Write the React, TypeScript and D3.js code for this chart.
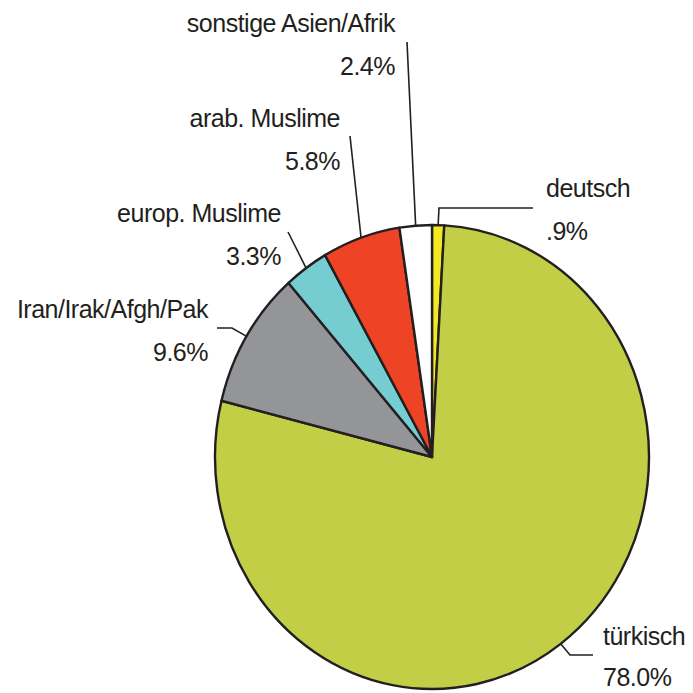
import React from "react"
import * as d3 from "d3"

// slices, clockwise from 12 o'clock
const groups = ["deutsch", "türkisch", "Iran/Irak/Afgh/Pak", "europ. Muslime", "arab. Muslime", "sonstige Asien/Afrik"]
const shares = [0.9, 78.0, 9.6, 3.3, 5.8, 2.4]
const shareLabels = [".9%", "78.0%", "9.6%", "3.3%", "5.8%", "2.4%"]
const colors = ["#f3e922", "#c2ce46", "#939598", "#76cdd1", "#ee4325", "#ffffff"]

// label placement: leader line points after the edge, text anchor + position
const labelLayout = [
  { pts: [[439, 208], [533, 208]], anchor: "start", x: 546, y: 197, gap: 43 },
  { pts: [[570, 655], [593, 655]], anchor: "start", x: 603, y: 645, gap: 41 },
  { pts: [[232, 328], [217, 328]], anchor: "end", x: 208, y: 318, gap: 43 },
  { pts: [[288, 232]], anchor: "end", x: 281, y: 222, gap: 43 },
  { pts: [[350, 136]], anchor: "end", x: 340, y: 127, gap: 43 },
  { pts: [[407, 42]], anchor: "end", x: 395, y: 32, gap: 43 },
]

const W = 693
const H = 693
const cx = 432
const cy = 457
const rx = 217
const ry = 232

export default function App() {
  const pie = d3.pie<number>().sort(null).value(d => d)
  const arcs = pie(shares)
  const arc = d3.arc<d3.PieArcDatum<number>>().innerRadius(0).outerRadius(rx)
  const line = d3.line()

  const edge = (a: number) => [cx + rx * Math.sin(a), cy - ry * Math.cos(a)]

  return (
    <svg width={W} height={H} style={{ position: "absolute", left: 0, top: 0, background: "#fff" }}
      fontFamily="'Liberation Sans', Arial, sans-serif">
      <g transform={`translate(${cx},${cy}) scale(1,${ry / rx})`}>
        {arcs.map((d, i) => (
          <path key={i} d={arc(d) || ""} fill={colors[i]} stroke="#231f20" strokeWidth={2.4}
            strokeLinejoin="round" vectorEffect="non-scaling-stroke" />
        ))}
      </g>
      {arcs.map((d, i) => {
        const mid = (d.startAngle + d.endAngle) / 2
        const l = labelLayout[i]
        const pts = [edge(mid), ...l.pts] as [number, number][]
        return (
          <g key={i}>
            <path d={line(pts) || ""} fill="none" stroke="#231f20" strokeWidth={1.6} />
            <text x={l.x} y={l.y} textAnchor={l.anchor} fontSize={25} letterSpacing={-0.5} fill="#231f20">
              {groups[i]}
            </text>
            <text x={l.x} y={l.y + l.gap} textAnchor={l.anchor} fontSize={25} letterSpacing={-0.5} fill="#231f20">
              {shareLabels[i]}
            </text>
          </g>
        )
      })}
    </svg>
  )
}
